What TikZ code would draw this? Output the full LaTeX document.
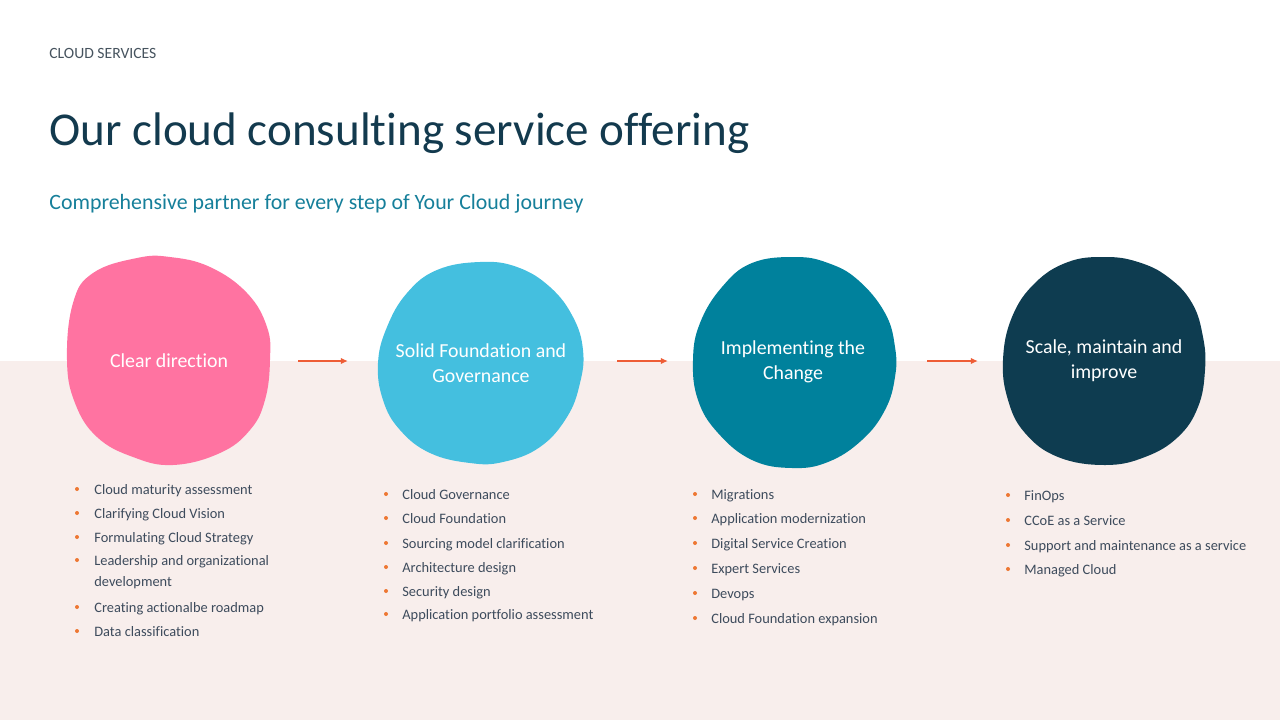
\documentclass[tikz,border=0pt]{standalone}
\usepackage{fontspec}
\setmainfont{Carlito}[Ligatures=NoCommon]
\usepackage{xcolor}
\usepackage{tikz}
\usetikzlibrary{positioning,arrows.meta}

\definecolor{bandcol}{HTML}{F8EEEC}
\definecolor{pinkcol}{HTML}{FF73A1}
\definecolor{skycol}{HTML}{44BFDF}
\definecolor{tealcol}{HTML}{00819C}
\definecolor{navycol}{HTML}{0E3C50}
\definecolor{titlecol}{HTML}{133A4E}
\definecolor{subcol}{HTML}{167F9A}
\definecolor{headcol}{HTML}{46535E}
\definecolor{itemcol}{HTML}{3D4B5C}
\definecolor{dotcol}{HTML}{EE7733}
\definecolor{arrowcol}{HTML}{EE5D36}

\begin{document}
\begin{tikzpicture}[x=0.02cm, y=-0.02cm,
    blobtext/.style={text=white, align=center, font=\fontsize{11.3}{14.2}\selectfont},
    item/.style={anchor=base west, inner sep=0, text=itemcol, font=\fontsize{8.2}{10}\selectfont},
    arrow/.style={-{Latex[length=4pt,width=3.6pt]}, draw=arrowcol, line width=0.85pt}
]
    \useasboundingbox (0,0) rectangle (1280,720);
    \fill[bandcol] (0,361) rectangle (1280,720);

    % header
    \node[anchor=base west, inner sep=0, text=headcol, font=\fontsize{8.9}{10}\selectfont] (head) at (49,58) {CLOUD SERVICES};
    \node[anchor=base west, inner sep=0, text=titlecol, font=\fontsize{26.8}{32}\selectfont] (title) at (49,145) {Our cloud consulting service offering};
    \node[anchor=base west, inner sep=0, text=subcol, font=\fontsize{12.45}{15}\selectfont] (sub) at (49,209) {Comprehensive partner for every step of Your Cloud journey};

    % blobs
    \fill[pinkcol] plot[smooth cycle, tension=0.7] coordinates {(170,257) (210,267) (247,293) (267,327) (270,360) (265,400) (250,430) (220,453) (173,465) (133,457) (97,437) (75,403) (67,360) (73,303) (93,273) (137,258)};
    \fill[skycol] plot[smooth cycle, tension=0.7] coordinates {(480,262) (517,267) (550,287) (573,317) (583,350) (580,383) (567,417) (540,447) (503,462) (470,463) (430,453) (400,430) (383,400) (378,363) (387,327) (407,293) (437,270)};
    \fill[tealcol] plot[smooth cycle, tension=0.7] coordinates {(795,257) (828,263) (858,280) (885,313) (895,347) (895,377) (885,410) (862,440) (828,462) (792,468) (752,460) (718,433) (698,400) (693,360) (700,323) (722,287) (752,263)};
    \fill[navycol] plot[smooth cycle, tension=0.7] coordinates {(1105,257) (1138,262) (1168,277) (1192,303) (1203,337) (1205,370) (1198,407) (1178,437) (1145,457) (1105,465) (1058,457) (1025,433) (1008,400) (1003,360) (1012,317) (1035,283) (1068,262)};

    \node[blobtext] (c1) at (169,361) {Clear direction};
    \node[blobtext] (c2) at (481,363) {Solid Foundation and\\Governance};
    \node[blobtext] (c3) at (793,362) {Implementing the\\Change};
    \node[blobtext] (c4) at (1104,361) {Scale, maintain and\\improve};

    % arrows
    \coordinate (a1s) at (298,361); \coordinate (a1e) at (348,361);
    \coordinate (a2s) at (617,361); \coordinate (a2e) at (668,361);
    \coordinate (a3s) at (927,361); \coordinate (a3e) at (978,361);
    \draw[arrow] (a1s) -- (a1e);
    \draw[arrow] (a2s) -- (a2e);
    \draw[arrow] (a3s) -- (a3e);

    % lists
    \foreach \y/\t [count=\i] in {494/Cloud maturity assessment, 518/Clarifying Cloud Vision, 542/Formulating Cloud Strategy, 565/Leadership and organizational, 612/Creating actionalbe roadmap, 636/Data classification} {
        \fill[dotcol] (77,\y-5) circle (2);
        \node[item] (l1-\i) at (94,\y) {\t};
    }
    \node[item] (l1-4b) at (94,586) {development};

    \foreach \y/\t [count=\i] in {499/Cloud Governance, 523/Cloud Foundation, 548/Sourcing model clarification, 572/Architecture design, 596/Security design, 619/Application portfolio assessment} {
        \fill[dotcol] (386,\y-5) circle (2);
        \node[item] (l2-\i) at (402,\y) {\t};
    }

    \foreach \y/\t [count=\i] in {499/Migrations, 523/Application modernization, 548/Digital Service Creation, 573/Expert Services, 598/Devops, 623/Cloud Foundation expansion} {
        \fill[dotcol] (695,\y-5) circle (2);
        \node[item] (l3-\i) at (711,\y) {\t};
    }

    \foreach \y/\t [count=\i] in {500/FinOps, 525/CCoE as a Service, 550/Support and maintenance as a service, 574/Managed Cloud} {
        \fill[dotcol] (1008,\y-5) circle (2);
        \node[item] (l4-\i) at (1024,\y) {\t};
    }
\end{tikzpicture}
\end{document}
